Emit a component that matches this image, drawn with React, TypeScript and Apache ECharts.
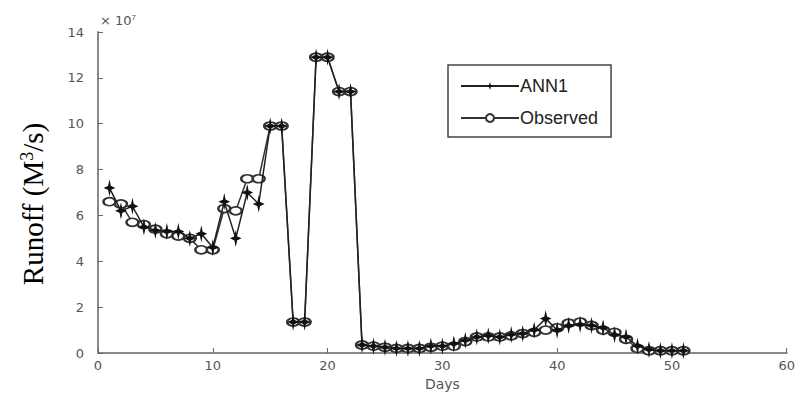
import React, { useEffect, useRef } from "react";
import * as echarts from "echarts";

const days: number[] = Array.from({ length: 51 }, (_, i) => i + 1);

// values in units of 1e7 M^3/s
const ann1: number[] = [
  7.2, 6.2, 6.4, 5.5, 5.35, 5.3, 5.3, 5.0, 5.2, 4.6,
  6.6, 5.0, 7.0, 6.5, 9.9, 9.9, 1.35, 1.35, 12.9, 12.9,
  11.4, 11.4, 0.35, 0.3, 0.25, 0.2, 0.2, 0.2, 0.3, 0.3,
  0.4, 0.55, 0.7, 0.75, 0.7, 0.8, 0.85, 1.0, 1.5, 1.0,
  1.2, 1.25, 1.2, 1.1, 0.8, 0.7, 0.3, 0.15, 0.1, 0.1, 0.1,
];

const observed: number[] = [
  6.6, 6.5, 5.7, 5.6, 5.4, 5.2, 5.1, 5.0, 4.5, 4.5,
  6.3, 6.2, 7.6, 7.6, 9.9, 9.9, 1.35, 1.35, 12.9, 12.9,
  11.4, 11.4, 0.35, 0.3, 0.25, 0.2, 0.2, 0.2, 0.25, 0.3,
  0.3, 0.5, 0.7, 0.7, 0.7, 0.75, 0.85, 0.9, 1.0, 1.1,
  1.3, 1.35, 1.2, 1.0, 0.9, 0.6, 0.2, 0.1, 0.1, 0.1, 0.1,
];

const xTicks = { min: 0, max: 60, interval: 10 };
const yTicks = { min: 0, max: 14, interval: 2 };

const starPath =
  "path://M0,-10 L2,-2.5 L9,0 L2,2.5 L0,10 L-2,2.5 L-9,0 L-2,-2.5 Z";

export default function App() {
  const ref = useRef<HTMLDivElement>(null);

  useEffect(() => {
    if (!ref.current) return;
    const chart = echarts.init(ref.current, undefined, { renderer: "svg" });
    const tickLabel = {
      color: "#555",
      fontFamily: "DejaVu Sans, Liberation Sans, sans-serif",
      fontSize: 13,
    };
    chart.setOption({
      animation: false,
      backgroundColor: "#ffffff",
      grid: { left: 98, right: 10, top: 32, bottom: 40, containLabel: false },
      legend: {
        orient: "vertical",
        left: 448,
        top: 65,
        width: 160,
        padding: [12, 13, 10, 12],
        itemGap: 14,
        itemWidth: 58,
        itemHeight: 10,
        borderColor: "#444",
        borderWidth: 1.5,
        backgroundColor: "#fff",
        textStyle: {
          color: "#222",
          fontFamily: "Liberation Sans, Arial, sans-serif",
          fontSize: 18,
          padding: [0, 0, 0, -4],
        },
        data: ["ANN1", "Observed"],
      },
      xAxis: {
        type: "value",
        min: xTicks.min,
        max: xTicks.max,
        interval: xTicks.interval,
        name: "Days",
        nameLocation: "middle",
        nameGap: 24,
        nameTextStyle: {
          color: "#555",
          fontFamily: "DejaVu Sans, Liberation Sans, sans-serif",
          fontSize: 14,
        },
        axisLine: { show: true, lineStyle: { color: "#8a8a8a", width: 2 } },
        axisTick: { show: true, inside: true, length: 5, lineStyle: { color: "#666" } },
        axisLabel: { ...tickLabel, margin: 6 },
        splitLine: { show: false },
      },
      yAxis: {
        type: "value",
        min: yTicks.min,
        max: yTicks.max,
        interval: yTicks.interval,
        axisLine: { show: true, lineStyle: { color: "#8a8a8a", width: 2 } },
        axisTick: { show: true, inside: true, length: 5, lineStyle: { color: "#666" } },
        axisLabel: { ...tickLabel, margin: 14 },
        splitLine: { show: false },
      },
      graphic: [
        {
          type: "text",
          left: 100,
          top: 13,
          style: {
            text: "× 10{sup|7}",
            fill: "#555",
            font: "13px DejaVu Sans, Liberation Sans, sans-serif",
            rich: {
              sup: { fontSize: 8, verticalAlign: "top", padding: [0, 0, 6, 0], fill: "#555" },
            },
          },
        },
        {
          type: "text",
          x: 33,
          y: 204,
          rotation: Math.PI / 2,
          style: {
            text: "Runoff (M{sup|3}/s)",
            fill: "#000",
            font: "29px Liberation Serif, Times New Roman, serif",
            align: "center",
            verticalAlign: "middle",
            rich: {
              sup: {
                fontSize: 18,
                fontFamily: "Liberation Serif, Times New Roman, serif",
                verticalAlign: "top",
                padding: [0, 0, 12, 0],
                fill: "#000",
              },
            },
          },
        },
      ],
      series: [
        {
          name: "ANN1",
          type: "line",
          data: days.map((d, i) => [d, ann1[i]]),
          symbol: starPath,
          symbolSize: [9, 13],
          showAllSymbol: true,
          lineStyle: { color: "#222", width: 1.5 },
          itemStyle: { color: "#111", borderColor: "#111" },
          z: 3,
        },
        {
          name: "Observed",
          type: "line",
          data: days.map((d, i) => [d, observed[i]]),
          symbol: "emptyCircle",
          symbolSize: [12, 8],
          showAllSymbol: true,
          lineStyle: { color: "#333", width: 1.5 },
          itemStyle: { color: "#333", borderColor: "#333", borderWidth: 1.2 },
          z: 2,
        },
      ],
    });
    return () => chart.dispose();
  }, []);

  return (
    <div
      ref={ref}
      style={{ width: 798, height: 396, position: "absolute", left: 0, top: 0 }}
    />
  );
}
